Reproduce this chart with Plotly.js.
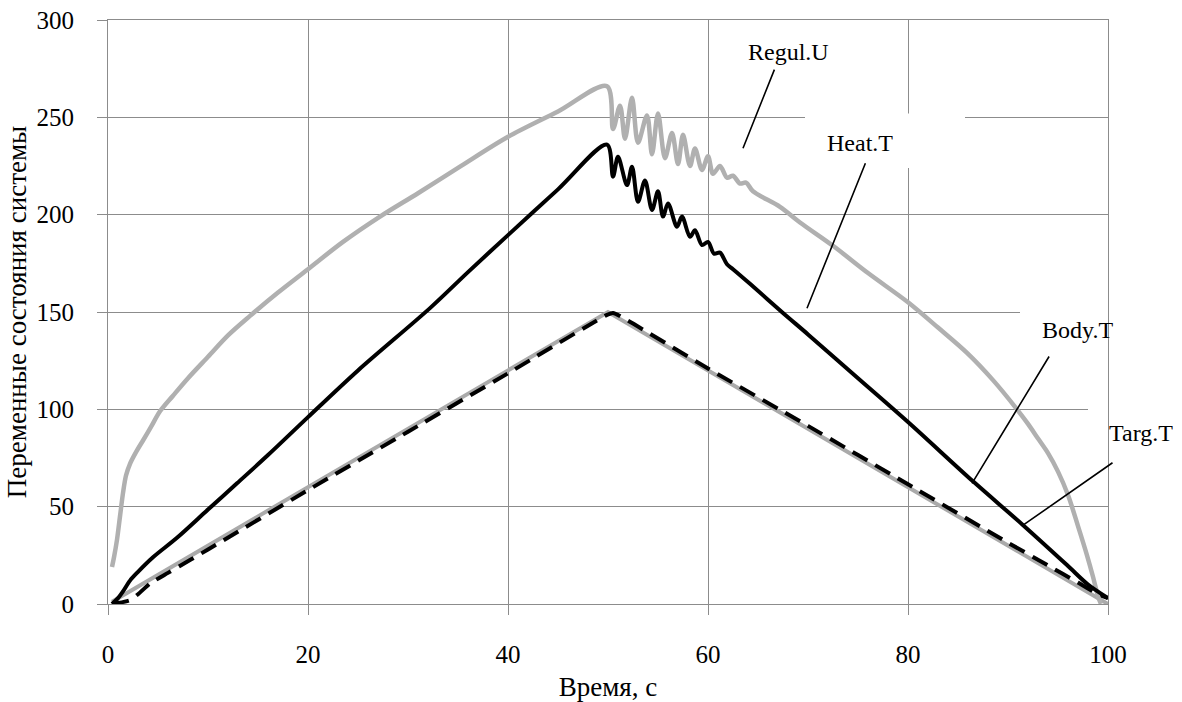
<!DOCTYPE html>
<html>
<head>
<meta charset="utf-8">
<script src="https://cdn.plot.ly/plotly-3.0.1.min.js"></script>
<style>
html,body{margin:0;padding:0;background:#fff;}
#chart{width:1182px;height:702px;}
#chart svg text{font-family:"Liberation Serif" !important;}
</style>
</head>
<body>
<div id="chart"></div>
<script>
// ---- data ----
const regulT = [0.4,0.6,0.9,1.2,1.5,1.8,2.2,2.8,3.5,4.3,5.2,6.5,8,10,12,14.2,17,20,23.5,27.2,31,35,40,45,49.9,
  50.5,51.2,51.7,52.4,53.0,53.9,54.4,55.0,55.7,56.4,57.0,57.5,58.2,58.7,59.4,60.0,60.5,61.2,61.9,62.5,63.2,63.8,64.5,
  67.2,69.2,72.5,76,80,83,85.9,88.5,90.9,92,93,94,95,96,97,97.9,98.5,99,99.3];
const regulU = [19,24,33,45,57,66,72,78,84,91,99,107,116,127,138,148,160,172,186,199,211,224,240,253,266,
  244,256,239,260,237,251,231,252,229,242,226,241,225,234,223,230,221,225,219,220,216,216.5,212,
  204,196,184,170,155,142,129,115,100,92.5,85,77.5,68,56,40,25,14,4,0];

const heatTt = [0.4,1,1.5,2.2,3,4.5,6.9,10,12.9,16,20,25,32.2,36,40,45,49.9,
  50.5,51.0,51.9,52.4,53.0,53.7,54.4,55.0,55.5,56.0,56.9,57.4,58.2,58.7,59.4,60.0,60.6,61.2,61.9,62.5,
  64.2,67.5,70,75,80,86.5,91.4,95.9,98,100];
const heatT = [0,3,6.5,12,16.5,24,34,48.5,62,76.5,96,120,152,170.5,189.5,213,236,
  219.5,229.7,215.2,224.6,206.6,217.6,202.4,212,199,205.8,193.8,199,188.6,192,184.4,186,180,180.5,174.5,172,
  164.5,149.5,138.5,116,93.5,63,41,20,10,3];

const targTt = [0.4,50,100];
const targT  = [1.2,150,0];

const bodyTt = [0.4,1,2.2,3,4.2,6,8.2,10,20,30,40,49.9,50.5,52,60,70,80,90,94,97,99,100];
const bodyT  = [0,0.5,2,5,10.5,16,22.6,28,58.5,88.5,118.5,148.5,149.5,145.5,121,91.5,61.5,31.5,19.8,11,5,3];

const xTicks = [0,20,40,60,80,100];
const yTicks = [0,50,100,150,200,250,300];
const X_RANGE = [0,100];
const Y_RANGE = [0,300];

const seriesLabels = ['Regul.U','Heat.T','Body.T','Targ.T'];
// label centre (t, value) and leader line tail -> tip (t, value)
const labelPos = [[68,283.6],[75.2,236.8],[96.9,140.8],[103.3,87.8]];
const leaderTail = [[66.7,275.3],[75.8,227.2],[94.2,127.9],[100.6,73.1]];
const leaderTip  = [[63.5,234.1],[69.9,151.9],[86.4,62.0],[91.4,40.1]];
// white label backgrounds (t0,t1,v0,v1)
const labelBoxes = [[69.7,85.7,224,252],[91.2,101,128,155],[98,101,51,101.5]];

const FONT = 'Liberation Serif';
const GRID = '#8c8c8c';

const traces = [
  {x: targTt, y: targT, name:'Targ.T', mode:'lines', line:{color:'#aaaaaa', width:4}},
  {x: bodyTt, y: bodyT, name:'Body.T', mode:'lines', line:{color:'#000000', width:4, dash:'17px,9px', shape:'spline', smoothing:0.6}},
  {x: regulT, y: regulU, name:'Regul.U', mode:'lines', line:{color:'#b0b0b0', width:4.5, shape:'spline', smoothing:0.9}},
  {x: heatTt, y: heatT, name:'Heat.T', mode:'lines', line:{color:'#000000', width:4, shape:'spline', smoothing:0.9}}
];

// paper fraction from the axis ranges (lets labels sit outside the plot area)
const px = t => (t - X_RANGE[0]) / (X_RANGE[1] - X_RANGE[0]);
const py = v => (v - Y_RANGE[0]) / (Y_RANGE[1] - Y_RANGE[0]);

const annotations = [];
seriesLabels.forEach((s,i)=>{
  annotations.push({x:px(labelPos[i][0]), y:py(labelPos[i][1]), xref:'paper', yref:'paper',
    xanchor:'center', yanchor:'middle', text:s, showarrow:false,
    font:{family:FONT, size:24, color:'#000'}});
  annotations.push({x:leaderTip[i][0], y:leaderTip[i][1], xref:'x', yref:'y',
    ax:leaderTail[i][0], ay:leaderTail[i][1], axref:'x', ayref:'y', text:'', showarrow:true,
    arrowhead:0, arrowwidth:1.6, arrowcolor:'#000', standoff:0, startstandoff:0});
});

const shapes = labelBoxes.map(b=>({type:'rect', xref:'x', yref:'y', x0:b[0], x1:b[1], y0:b[2], y1:b[3],
  fillcolor:'#ffffff', line:{width:0}, layer:'between'}));

const layout = {
  width:1182, height:702,
  margin:{l:108, r:74, t:20, b:98},
  paper_bgcolor:'#ffffff', plot_bgcolor:'#ffffff',
  showlegend:false,
  font:{family:FONT, color:'#000'},
  xaxis:{range:X_RANGE, tickvals:xTicks, ticktext:xTicks.map(String),
    showgrid:true, gridcolor:GRID, gridwidth:1, zeroline:false,
    showline:true, linecolor:GRID, linewidth:1, mirror:true,
    ticks:'outside', ticklen:10, tickcolor:GRID, tickwidth:1,
    ticklabelstandoff:18,
    tickfont:{family:FONT, size:25, color:'#000'},
    title:{text:'Время, с', font:{family:FONT, size:27, color:'#000'}, standoff:16}},
  yaxis:{range:Y_RANGE, tickvals:yTicks, ticktext:yTicks.map(String),
    showgrid:true, gridcolor:GRID, gridwidth:1, zeroline:false,
    showline:true, linecolor:GRID, linewidth:1, mirror:true,
    ticks:'outside', ticklen:10, tickcolor:GRID, tickwidth:1,
    ticklabelstandoff:18,
    tickfont:{family:FONT, size:25, color:'#000'},
    title:{text:'Переменные состояния системы', font:{family:FONT, size:27, color:'#000'}, standoff:2}},
  annotations: annotations,
  shapes: shapes
};

Plotly.newPlot('chart', traces, layout, {displayModeBar:false, staticPlot:true});
</script>
</body>
</html>
